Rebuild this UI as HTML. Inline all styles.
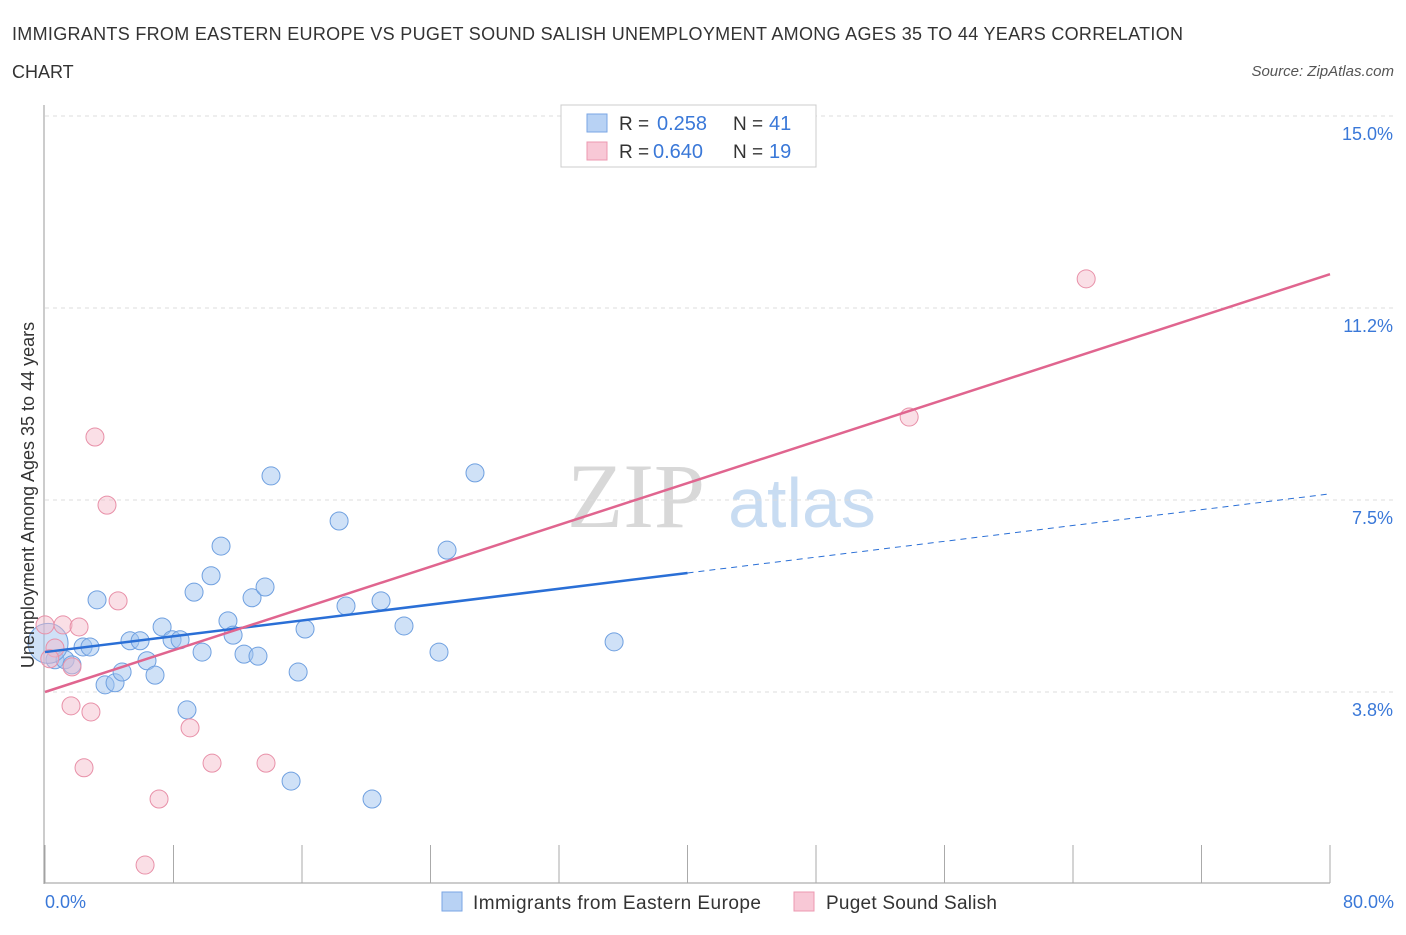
<!DOCTYPE html>
<html><head><meta charset="utf-8"><style>
body{margin:0;background:#fff;font-family:"Liberation Sans",sans-serif;}
svg text{font-family:"Liberation Sans",sans-serif;}
</style></head><body>
<svg id="chart" width="1406" height="930">
<text x="12" y="40" font-size="18" fill="#333" textLength="1171">IMMIGRANTS FROM EASTERN EUROPE VS PUGET SOUND SALISH UNEMPLOYMENT AMONG AGES 35 TO 44 YEARS CORRELATION</text>
<text x="12" y="78" font-size="18" fill="#333">CHART</text>
<text x="1394" y="76" font-size="15" fill="#555" font-style="italic" text-anchor="end">Source: ZipAtlas.com</text>
<text x="636" y="527" font-size="92" fill="#d8d8d8" style="font-family:'Liberation Serif',serif" text-anchor="middle">ZIP</text>
<text x="802" y="527" font-size="70" fill="#c8dcf2" text-anchor="middle">atlas</text>
<g id="grid"></g><g id="marks"></g>
<text transform="translate(34,495) rotate(-90)" font-size="18" fill="#333" text-anchor="middle">Unemployment Among Ages 35 to 44 years</text>
<text x="45" y="908" font-size="18" fill="#3a78d8">0.0%</text>
<text x="1394" y="908" font-size="18" fill="#3a78d8" text-anchor="end">80.0%</text>
<g>
<rect x="561" y="105" width="255" height="62" fill="#fff" stroke="#ccc"/>
<rect x="587" y="114" width="20" height="18" fill="#b8d2f4" stroke="#7aa6e4"/>
<text x="619" y="130" font-size="19" fill="#333">R =</text>
<text x="657" y="130" font-size="20" fill="#3a78d8">0.258</text>
<text x="733" y="130" font-size="19" fill="#333">N =</text>
<text x="769" y="130" font-size="20" fill="#3a78d8">41</text>
<rect x="587" y="142" width="20" height="18" fill="#f8c8d6" stroke="#ec98b0"/>
<text x="619" y="158" font-size="19" fill="#333">R =</text>
<text x="653" y="158" font-size="20" fill="#3a78d8">0.640</text>
<text x="733" y="158" font-size="19" fill="#333">N =</text>
<text x="769" y="158" font-size="20" fill="#3a78d8">19</text>
</g>
<g>
<rect x="442" y="892" width="20" height="19" fill="#b8d2f4" stroke="#7aa6e4"/>
<text x="473" y="909" font-size="19" fill="#333" textLength="288">Immigrants from Eastern Europe</text>
<rect x="794" y="892" width="20" height="19" fill="#f8c8d6" stroke="#ec98b0"/>
<text x="826" y="909" font-size="19" fill="#333" textLength="171">Puget Sound Salish</text>
</g>
</svg>
<script>
const blueX=[0.62,1.25,1.68,2.37,2.80,3.24,3.74,4.36,4.80,5.29,5.92,6.35,6.85,7.29,7.91,8.41,8.84,9.28,9.78,10.34,10.96,11.39,11.71,12.39,12.89,13.26,13.70,14.07,15.76,15.32,16.19,18.31,18.74,20.36,20.92,22.35,24.53,25.03,26.77,35.43,0.19];
const blueY=[4.38,4.38,4.28,4.63,4.63,5.55,3.89,3.93,4.14,4.75,4.75,4.36,4.08,5.02,4.77,4.77,3.40,5.70,4.53,6.02,6.60,5.14,4.86,4.49,5.59,4.45,5.80,7.97,4.14,2.01,4.98,7.09,5.43,1.66,5.53,5.04,4.53,6.52,8.03,4.73,4.70];
const blueR=[9,9,9,9,9,9,9,9,9,9,9,9,9,9,9,9,9,9,9,9,9,9,9,9,9,9,9,9,9,9,9,9,9,9,9,9,9,9,9,9,20];
const pinkX=[0,0.62,1.12,1.68,2.12,1.62,2.43,2.86,3.11,3.86,4.55,6.23,7.10,9.03,10.40,13.76,53.80,64.82,0.3];
const pinkY=[5.06,4.61,5.06,4.24,5.02,3.48,2.27,3.36,8.73,7.40,5.53,0.37,1.66,3.05,2.36,2.36,9.12,11.82,4.4];
const yTicks=[15.0,11.25,7.5,3.75];
const yTickLabels=["15.0%","11.2%","7.5%","3.8%"];
const blueTrend=[4.53,7.62]; const blueSolidEnd=40;
const pinkTrend=[3.75,11.91];
const X=v=>45+v*1285/80, Y=v=>884-v*51.2;
const NS="http://www.w3.org/2000/svg";
function mk(t,a,p){const e=document.createElementNS(NS,t);for(const k in a)e.setAttribute(k,a[k]);p.appendChild(e);return e;}
const g=document.getElementById('grid'), m=document.getElementById('marks');
yTicks.forEach((t,i)=>{
 const l=mk('line',{x1:45,x2:1394,y1:Y(t),y2:Y(t),stroke:'#ddd','stroke-dasharray':'4,4'},g);
 
 
 const tx=mk('text',{x:1393,y:Y(t)+24,'font-size':18,fill:'#3a78d8','text-anchor':'end'},g);
 tx.textContent=yTickLabels[i];
 
 
});
const ax=mk('line',{x1:44,x2:44,y1:105,y2:884,stroke:'#999'},g);


const bx=mk('line',{x1:44,x2:1330,y1:883,y2:883,stroke:'#999'},g);


for(let i=0;i<=10;i++){const v=i*8;const t=mk('line',{x1:X(v),x2:X(v),y1:845,y2:883,stroke:'#aaa'},g);
 
 }
blueX.forEach((x,i)=>{const c=mk('circle',{cx:X(x),cy:Y(blueY[i]),r:blueR[i],fill:'rgba(160,196,240,0.5)',stroke:'#6fa0e0','stroke-width':1},m);
 
 });
pinkX.forEach((x,i)=>{const c=mk('circle',{cx:X(x),cy:Y(pinkY[i]),r:9,fill:'rgba(244,184,200,0.45)',stroke:'#e890a8','stroke-width':1},m);
 
 });
const sl=(blueTrend[1]-blueTrend[0])/80;
const b1=mk('line',{x1:X(0),y1:Y(blueTrend[0]),x2:X(blueSolidEnd),y2:Y(blueTrend[0]+sl*blueSolidEnd),stroke:'#2a6fd6','stroke-width':2.5},m);


const b2=mk('line',{x1:X(blueSolidEnd),y1:Y(blueTrend[0]+sl*blueSolidEnd),x2:X(80),y2:Y(blueTrend[1]),stroke:'#2a6fd6','stroke-width':1,'stroke-dasharray':'6,5'},m);


const p1=mk('line',{x1:X(0),y1:Y(pinkTrend[0]),x2:X(80),y2:Y(pinkTrend[1]),stroke:'#e0658f','stroke-width':2.5},m);


</script>
</body></html>
